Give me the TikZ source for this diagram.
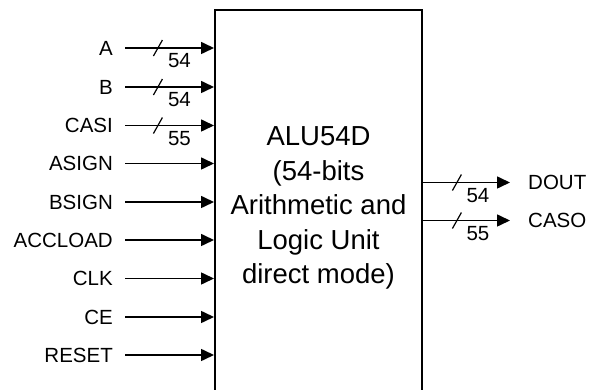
\documentclass[tikz,border=0pt]{standalone}
\usepackage{fontspec}
\setmainfont{Liberation Sans}
\usetikzlibrary{arrows.meta}
\begin{document}
\begin{tikzpicture}[x=1pt,y=-1pt,
  sig/.style={line width=1.6pt,-{Triangle[length=13pt,width=12pt]}},
  slashline/.style={line width=1.2pt},
  lbl/.style={inner sep=0pt,text height=15pt,text depth=0pt,font=\fontsize{20.5}{24}\selectfont},
  num/.style={inner sep=0pt,font=\fontsize{20.5}{24}\selectfont},
  blockbox/.style={draw,line width=2pt,minimum width=207pt,minimum height=385pt,inner sep=0pt}]
\useasboundingbox (0,0) rectangle (590,390);
\node[blockbox] (alu) at (318.5,202.5) {};
\node[inner sep=0pt,align=center,font=\fontsize{27.5}{34.5}\selectfont] (title) at (318.5,208)
  {ALU54D\\(54-bits\\Arithmetic and\\Logic Unit\\direct mode)};
% left inputs
\foreach \nm/\txt/\yy in {lA/A/48, lB/B/87, lC/CASI/125.5, lD/ASIGN/163.5, lE/BSIGN/202, lF/ACCLOAD/240, lG/CLK/278.5, lH/CE/317, lI/RESET/355}{
  \node[lbl,anchor=east] (\nm) at (113,\yy) {\txt};
}
\foreach \nm in {lD,lE,lF,lG,lH,lI}{
  \draw[sig] ([xshift=12pt]\nm.east) -- (\nm.east -| alu.west);
}
\foreach \nm/\n in {lA/54,lB/54,lC/55}{
  \draw[sig] ([xshift=12pt]\nm.east) -- coordinate[pos=0.37] (s\nm) (\nm.east -| alu.west);
  \draw[slashline] ([shift={(-4.5,8)}]s\nm) -- ([shift={(4.5,-8)}]s\nm);
  \node[num] at ([shift={(21.5,13)}]s\nm) {\n};
}
% right outputs
\node[lbl,anchor=west] (oD) at (528,182.5) {DOUT};
\node[lbl,anchor=west] (oC) at (528,220.5) {CASO};
\foreach \nm/\n in {oD/54,oC/55}{
  \draw[sig] (\nm.west -| alu.east) -- coordinate[pos=0.39] (s\nm) ([xshift=-18pt]\nm.west);
  \draw[slashline] ([shift={(-4.5,8)}]s\nm) -- ([shift={(4.5,-8)}]s\nm);
  \node[num] at ([shift={(21,13)}]s\nm) {\n};
}
\end{tikzpicture}
\end{document}
